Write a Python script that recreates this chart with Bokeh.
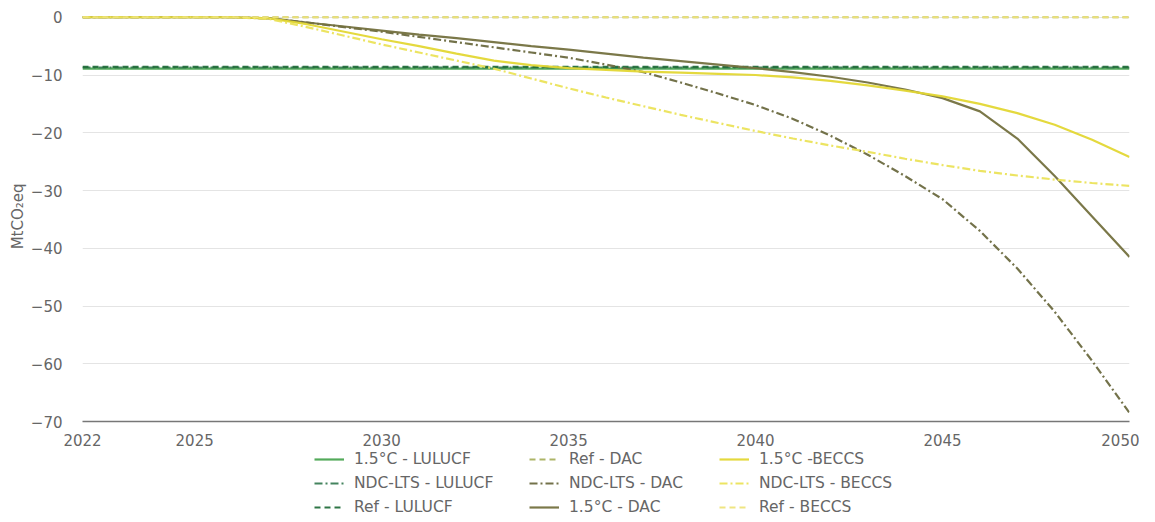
from bokeh.plotting import figure
from bokeh.models import Legend, LegendItem, Range1d, FixedTicker, Title
from bokeh.layouts import column
from bokeh.embed import file_html
from bokeh.resources import INLINE

years = list(range(2022, 2051))

lulucf_15 = [-8.9] * 29
lulucf_ndc = [-8.7] * 29
lulucf_ref = [-8.6] * 29

dac_ref = [0.0] * 29
dac_15 = [0, 0, 0, 0, 0, -0.2, -0.9, -1.6, -2.3, -3.0, -3.6, -4.3, -5.0, -5.6, -6.3,
          -7.0, -7.6, -8.2, -8.8, -9.5, -10.3, -11.3, -12.5, -14.0, -16.3, -21.0,
          -27.5, -34.5, -41.5]
dac_ndc = [0, 0, 0, 0, 0, -0.2, -0.9, -1.7, -2.5, -3.4, -4.3, -5.2, -6.1, -7.0, -8.2,
           -9.5, -11.3, -13.2, -15.2, -17.6, -20.5, -23.8, -27.5, -31.5, -37.0, -43.5,
           -51.0, -59.5, -68.5]

beccs_ref = [0.0] * 29
beccs_15 = [0, 0, 0, 0, 0, -0.2, -1.2, -2.5, -3.8, -5.0, -6.3, -7.5, -8.3, -8.8, -9.1,
            -9.4, -9.6, -9.8, -10.0, -10.4, -11.0, -11.8, -12.7, -13.7, -15.0, -16.6,
            -18.6, -21.2, -24.2]
beccs_ndc = [0, 0, 0, 0, 0, -0.3, -1.7, -3.2, -4.7, -6.1, -7.5, -8.9, -10.6, -12.3,
             -13.9, -15.4, -16.9, -18.3, -19.7, -21.0, -22.2, -23.3, -24.5, -25.6,
             -26.6, -27.4, -28.1, -28.7, -29.2]

x_ticks = [2022, 2025, 2030, 2035, 2040, 2045, 2050]
y_ticks = [0, -10, -20, -30, -40, -50, -60, -70]

# (label, values, colour, dash, legend column)
series = [
    ("1.5°C - LULUCF", lulucf_15, "#4aa552", "solid", 0),
    ("NDC-LTS - LULUCF", lulucf_ndc, "#3a7d55", "dashdot", 0),
    ("Ref - LULUCF", lulucf_ref, "#236e3c", "dashed", 0),
    ("Ref - DAC", dac_ref, "#a9b060", "dashed", 1),
    ("NDC-LTS - DAC", dac_ndc, "#6b6a40", "dashdot", 1),
    ("1.5°C - DAC", dac_15, "#74713f", "solid", 1),
    ("1.5°C -BECCS", beccs_15, "#e3d734", "solid", 2),
    ("NDC-LTS - BECCS", beccs_ndc, "#ebe35a", "dashdot", 2),
    ("Ref - BECCS", beccs_ref, "#eee47a", "dashed", 2),
]

dash_map = {"solid": "solid", "dashed": "6 4", "dashdot": "8 3 2 3"}

# ---- main chart ----
p = figure(width=1139, height=448, output_backend="svg", toolbar_location=None,
           x_range=Range1d(2022, 2050), y_range=Range1d(-70, 1),
           min_border_left=82, min_border_right=10, min_border_top=11,
           min_border_bottom=25)
p.outline_line_color = None
p.background_fill_color = "white"
p.border_fill_color = "white"

for name, vals, color, dash, col in series:
    p.line(years, vals, line_color=color, line_width=2.2,
           line_dash=dash_map[dash], line_alpha=0.95)

p.xaxis.ticker = FixedTicker(ticks=x_ticks)
p.yaxis.ticker = FixedTicker(ticks=y_ticks)
p.xgrid.grid_line_color = None
p.ygrid.grid_line_color = "#e4e4e4"
p.ygrid.grid_line_width = 1

p.yaxis.axis_line_color = None
p.yaxis.major_tick_line_color = None
p.yaxis.minor_tick_line_color = None
p.yaxis.major_label_text_color = "#666666"
p.yaxis.major_label_text_font = "DejaVu Sans"
p.yaxis.major_label_text_font_size = "15px"
p.yaxis.major_label_standoff = 14

ylab = Title(text="MtCO₂eq", align="right", offset=172,
             text_font="DejaVu Sans", text_font_style="normal",
             text_font_size="15px", text_color="#666666", standoff=2)
p.add_layout(ylab, "left")

p.xaxis.axis_line_color = "#777777"
p.xaxis.axis_line_width = 1.5
p.xaxis.major_tick_line_color = None
p.xaxis.minor_tick_line_color = None
p.xaxis.major_label_text_color = "#666666"
p.xaxis.major_label_text_font = "DejaVu Sans"
p.xaxis.major_label_text_font_size = "15px"
p.xaxis.major_label_standoff = 6

# ---- legend strip (same series, drawn outside its view) ----
p2 = figure(width=1139, height=68, output_backend="svg", toolbar_location=None,
            x_range=Range1d(0, 1), y_range=Range1d(0, 1),
            x_axis_type=None, y_axis_type=None,
            min_border_left=0, min_border_right=0, min_border_top=0,
            min_border_bottom=0)
p2.outline_line_color = None
p2.grid.grid_line_color = None

columns = [[], [], []]
for name, vals, color, dash, col in series:
    r = p2.line(years, vals, line_color=color, line_width=2.2,
                line_dash=dash_map[dash], line_alpha=0.95)
    columns[col].append(LegendItem(label=name, renderers=[r]))

col_x = [232, 447, 637]
for items, x in zip(columns, col_x):
    lg = Legend(items=items, orientation="vertical", location=(x, 0),
                border_line_color=None, background_fill_alpha=0,
                label_text_font="DejaVu Sans", label_text_font_size="15.5px",
                label_text_color="#666666", glyph_width=30, glyph_height=18,
                label_height=18, spacing=6, label_standoff=10, padding=0,
                margin=0)
    p2.add_layout(lg, "center")

layout = column(p, p2, spacing=0)
open("out.html", "w").write(file_html(layout, INLINE))
